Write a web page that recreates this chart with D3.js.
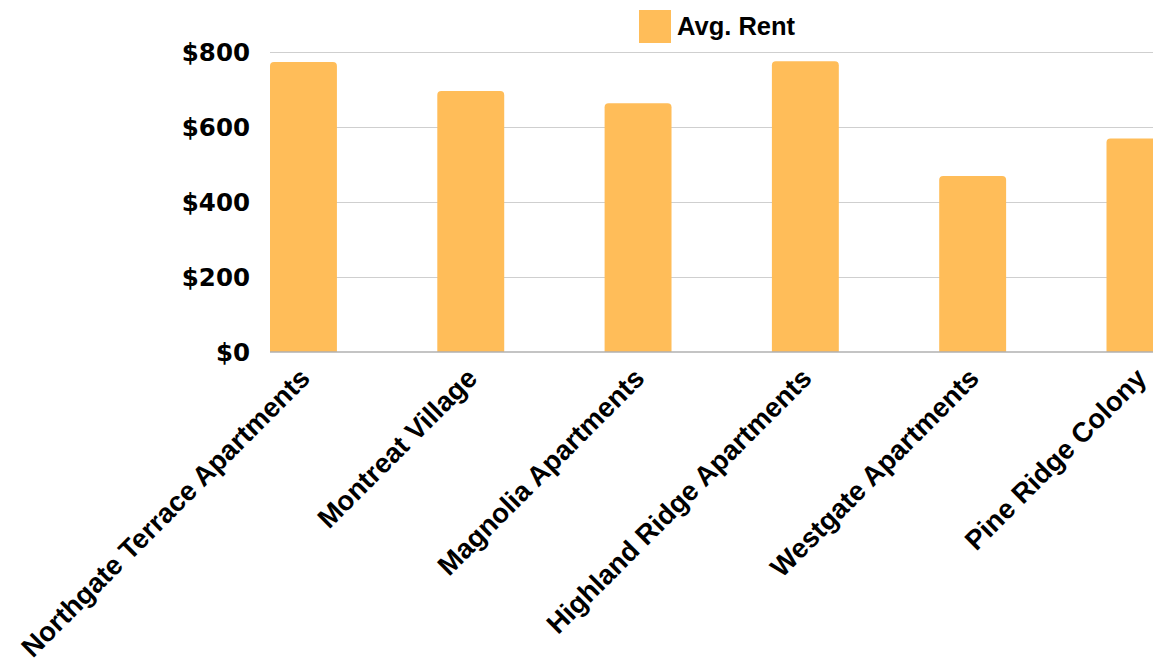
<!DOCTYPE html>
<html>
<head>
<meta charset="utf-8">
<script src="https://cdn.jsdelivr.net/npm/d3@7"></script>
<style>
  html, body { margin: 0; padding: 0; background: #fff; }
  svg { display: block; }
</style>
</head>
<body>
<svg id="chart" width="1153" height="664"></svg>
<script>
const categories = ["Northgate Terrace Apartments", "Montreat Village", "Magnolia Apartments",
  "Highland Ridge Apartments", "Westgate Apartments", "Pine Ridge Colony"];
const avgRent = [774, 697, 664, 776, 470, 570];
const yTicks = [0, 200, 400, 600, 800];
const seriesName = "Avg. Rent";

const W = 1153, H = 664;
const plotLeft = 270, plotTop = 52.3, plotBottom = 352;
const step = 167.3;
const barColor = "#FFBD59";

const svg = d3.select("#chart");

const x = d3.scaleBand()
  .domain(categories)
  .range([plotLeft, plotLeft + step * (categories.length - 0.6)])
  .paddingInner(0.6)
  .paddingOuter(0)
  .align(0);

const y = d3.scaleLinear().domain([0, 800]).range([plotBottom, plotTop]);

// gridlines
svg.append("g").selectAll("line")
  .data(yTicks.filter(d => d > 0))
  .join("line")
  .attr("x1", plotLeft).attr("x2", W)
  .attr("y1", d => Math.round(y(d)) + 0.5).attr("y2", d => Math.round(y(d)) + 0.5)
  .attr("stroke", "#cfcfcf").attr("stroke-width", 1);

// y tick labels
svg.append("g").selectAll("text")
  .data(yTicks)
  .join("text")
  .attr("x", 250)
  .attr("y", d => y(d))
  .attr("dy", "0.36em")
  .attr("text-anchor", "end")
  .style("font-family", "'DejaVu Sans', sans-serif")
  .style("font-weight", "bold")
  .style("font-size", "24.5px")
  .attr("fill", "#000")
  .text(d => "$" + d);

// bars with rounded tops
const r = 4;
svg.append("g").selectAll("path")
  .data(categories.map((c, i) => ({c, v: avgRent[i]})))
  .join("path")
  .attr("fill", barColor)
  .attr("d", d => {
    const x0 = x(d.c), x1 = x0 + x.bandwidth();
    const yt = y(d.v), yb = y(0);
    return `M${x0},${yb} L${x0},${yt + r} Q${x0},${yt} ${x0 + r},${yt} L${x1 - r},${yt} Q${x1},${yt} ${x1},${yt + r} L${x1},${yb} Z`;
  });

// baseline
svg.append("line")
  .attr("x1", plotLeft).attr("x2", W)
  .attr("y1", plotBottom).attr("y2", plotBottom)
  .attr("stroke", "#b0b0b0").attr("stroke-width", 1.5);

// category labels
svg.append("g").selectAll("text")
  .data(categories)
  .join("text")
  .attr("transform", d => `translate(${x(d) + x.bandwidth() / 2 + 8},${plotBottom + 28}) rotate(-45)`)
  .attr("text-anchor", "end")
  .style("font-family", "'Liberation Sans', Arial, sans-serif")
  .style("font-weight", "bold")
  .style("font-size", "27.5px")
  .attr("fill", "#000")
  .text(d => d);

// legend
const lg = svg.append("g").attr("transform", "translate(639,10)");
lg.append("rect").attr("width", 32).attr("height", 33).attr("fill", barColor);
lg.append("text")
  .attr("x", 38).attr("y", 24.5)
  .style("font-family", "'Liberation Sans', Arial, sans-serif")
  .style("font-weight", "bold")
  .style("font-size", "25.5px")
  .attr("fill", "#000")
  .text(seriesName);
</script>
</body>
</html>
